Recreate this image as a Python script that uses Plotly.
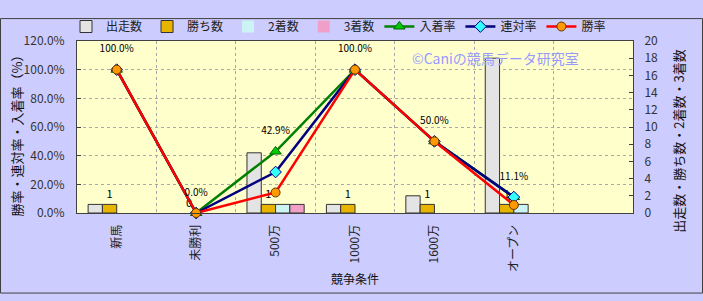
import plotly.graph_objects as go

categories = ["新馬", "未勝利", "500万", "1000万", "1600万", "オープン"]
starts = [1, 0, 7, 1, 2, 18]
wins = [1, 0, 1, 1, 1, 1]
seconds = [0, 0, 1, 0, 0, 1]
thirds = [0, 0, 1, 0, 0, 0]
place_rate = [1.0, 0.0, 0.429, 1.0, 0.5, 0.111]
rentai_rate = [1.0, 0.0, 0.286, 1.0, 0.5, 0.111]
win_rate = [1.0, 0.0, 0.143, 1.0, 0.5, 0.056]
place_labels = ["100.0%", "0.0%", "42.9%", "100.0%", "50.0%", "11.1%"]
win_labels = ["1", "0", "1", "1", "1", "1"]

FONT = "Noto Sans CJK JP"
W, H = 703, 301
L, R, T, B = 77, 70, 25, 88
PW, PH = W - L - R, H - T - B

def px(x):
    return (x - L) / PW

def py(y):
    return (H - B - y) / PH

def outline(vals):
    return dict(color="#333333", width=[1 if v else 0 for v in vals])

fig = go.Figure()
fig.add_trace(go.Bar(name="出走数", x=categories, y=starts, yaxis="y",
                     marker=dict(color="#e4e4e4", line=outline(starts))))
fig.add_trace(go.Bar(name="勝ち数", x=categories, y=wins, yaxis="y",
                     marker=dict(color="#e8b400", line=outline(wins)),
                     text=win_labels, textposition="outside",
                     textfont=dict(size=11, color="#000", family=FONT),
                     cliponaxis=False))
fig.add_trace(go.Bar(name="2着数", x=categories, y=seconds, yaxis="y",
                     marker=dict(color="#ccf4f4", line=outline(seconds))))
fig.add_trace(go.Bar(name="3着数", x=categories, y=thirds, yaxis="y",
                     marker=dict(color="#f0a0c8", line=outline(thirds))))

fig.add_trace(go.Scatter(name="入着率", x=categories, y=place_rate, yaxis="y2",
                         mode="lines+markers",
                         line=dict(color="#008000", width=2.5),
                         marker=dict(symbol="triangle-up", size=10, color="#00cc00",
                                     line=dict(color="#006400", width=1)),
                         cliponaxis=False))
fig.add_trace(go.Scatter(name="連対率", x=categories, y=rentai_rate, yaxis="y2",
                         mode="lines+markers",
                         line=dict(color="#000080", width=2.5),
                         marker=dict(symbol="diamond", size=9, color="#33ffff",
                                     line=dict(color="#000080", width=1)),
                         cliponaxis=False))
fig.add_trace(go.Scatter(name="勝率", x=categories, y=win_rate, yaxis="y2",
                         mode="lines+markers",
                         line=dict(color="#ff0000", width=2.5),
                         marker=dict(symbol="circle", size=9, color="#ff9900",
                                     line=dict(color="#663300", width=1)),
                         cliponaxis=False))
fig.add_trace(go.Scatter(x=categories, y=place_rate, yaxis="y2", mode="markers+text",
                         text=place_labels, textposition="top center",
                         marker=dict(size=22, color="rgba(0,0,0,0)"),
                         textfont=dict(size=10, color="#000", family=FONT),
                         showlegend=False, hoverinfo="skip", cliponaxis=False))

axis_line = "#404040"
grid = "#a8a8a8"
fig.update_layout(
    width=W, height=H,
    margin=dict(l=L, r=R, t=T, b=B, pad=0),
    paper_bgcolor="#ccccff",
    plot_bgcolor="#ffffcc",
    font=dict(family=FONT, size=12, color="#222"),
    barmode="group",
    bargap=0.28,
    bargroupgap=0,
    showlegend=True,
    legend=dict(orientation="h", x=px(66), xanchor="left", y=1.0, yanchor="bottom",
                bgcolor="rgba(0,0,0,0)", font=dict(size=12, family=FONT, color="#222"),
                itemwidth=30, tracegroupgap=0),
    xaxis=dict(type="category", range=[-0.5, 6.5], tickson="boundaries",
               showgrid=True, gridcolor=grid, griddash="dot", gridwidth=1,
               showline=True, linecolor=axis_line, linewidth=1, mirror=True,
               ticks="", tickangle=-90, ticklabelstandoff=6,
               tickfont=dict(size=12, family=FONT, color="#222"),
               zeroline=False),
    yaxis=dict(side="right", range=[0, 20], dtick=2, tick0=0,
               showgrid=False, zeroline=False,
               showline=True, linecolor=axis_line, linewidth=1,
               ticks="inside", ticklen=4, tickcolor=axis_line,
               ticklabelstandoff=8,
               tickfont=dict(size=12, family=FONT, color="#333")),
    yaxis2=dict(side="left", overlaying="y", range=[0, 1.2], dtick=0.2, tick0=0,
                tickformat=".1%",
                showgrid=True, gridcolor=grid, griddash="dot", gridwidth=1,
                zeroline=False,
                showline=True, linecolor=axis_line, linewidth=1,
                ticks="inside", ticklen=4, tickcolor=axis_line,
                ticklabelstandoff=9,
                tickfont=dict(size=12, family=FONT, color="#333")),
    annotations=[
        dict(text="©Caniの競馬データ研究室", xref="paper", yref="paper",
             x=px(495), y=py(44), xanchor="center", yanchor="middle", showarrow=False,
             font=dict(size=14, color="#9999ff", family=FONT)),
        dict(text="勝率・連対率・入着率（%）", xref="paper", yref="paper",
             x=px(16), y=py(125), xanchor="center", yanchor="middle",
             textangle=-90, showarrow=False,
             font=dict(size=13, color="#111", family=FONT)),
        dict(text="出走数・勝ち数・2着数・3着数", xref="paper", yref="paper",
             x=px(679), y=py(135), xanchor="center", yanchor="middle",
             textangle=-90, showarrow=False,
             font=dict(size=13, color="#111", family=FONT)),
        dict(text="競争条件", xref="paper", yref="paper",
             x=px(355), y=py(285), xanchor="center", yanchor="middle", showarrow=False,
             font=dict(size=12, color="#111", family=FONT)),
    ],
    shapes=[
        dict(type="rect", xref="paper", yref="paper",
             x0=px(0.5), x1=px(702.5), y0=py(0.5), y1=py(300.5),
             line=dict(color="#404040", width=1), fillcolor="rgba(0,0,0,0)",
             layer="below"),
    ],
)

fig.write_html("out.html")
